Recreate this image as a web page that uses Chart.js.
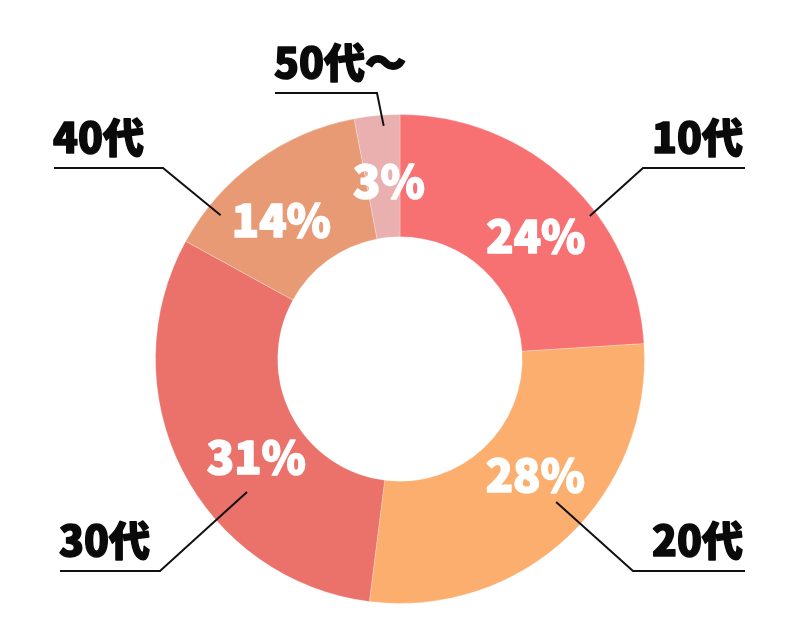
<!DOCTYPE html>
<html>
<head>
<meta charset="utf-8">
<script src="https://cdn.jsdelivr.net/npm/chart.js@4.4.1/dist/chart.umd.min.js"></script>
<style>
  html, body { margin: 0; padding: 0; background: #ffffff; }
  #wrap { width: 800px; height: 641px; }
</style>
</head>
<body>
<div id="wrap"><canvas id="c" width="800" height="641"></canvas></div>
<script>
// ---- data ----
const categories = ['10代', '20代', '30代', '40代', '50代～'];
const shares = [24, 28, 31, 14, 3];
const sliceColors = ['#F87172', '#FBAE6D', '#EB716B', '#E89A75', '#EAAFAF'];

// ---- layout / style (not data) ----
const FONT = '"Noto Sans CJK JP", "Noto Sans", sans-serif';
// per-slice fine placement of the inner % label: [angle shift in deg, radius as fraction of outer]
const pctPlace = [[4.2, 0.755], [-6.8, 0.722], [-6.7, 0.706], [-4, 0.755], [1.9, 0.739]];
// per-slice leader: start [angle shift deg, radius frac], elbow, end x
const leaders = [
  { shift: 9.8,  rf: 0.972, rowY: 168, elbowX: 643, endX: 745, side: 'right' },
  { shift: -4.3, rf: 0.866, rowY: 571, elbowX: 633, endX: 745, side: 'right' },
  { shift: -14,  rf: 0.829, rowY: 571, elbowX: 160, endX: 60,  side: 'left' },
  { shift: -15.3,rf: 0.94,  rowY: 168, elbowX: 163, endX: 54,  side: 'left' },
  { shift: 1.4,  rf: 0.956, rowY: 93,  elbowX: 377, endX: 275, side: 'left' }
];

function pointAt(arc, angShiftDeg, r) {
  const a = (arc.startAngle + arc.endAngle) / 2 + angShiftDeg * Math.PI / 180;
  return { x: arc.x + r * Math.cos(a), y: arc.y + r * Math.sin(a) };
}

function heavyText(ctx, txt, x, y, color, w) {
  ctx.fillStyle = color;
  ctx.strokeStyle = color;
  ctx.lineWidth = w;
  ctx.lineJoin = 'round';
  ctx.strokeText(txt, x, y);
  ctx.fillText(txt, x, y);
}

const labelPlugin = {
  id: 'sliceLabels',
  afterDatasetsDraw(chart) {
    const ctx = chart.ctx;
    const meta = chart.getDatasetMeta(0);
    meta.data.forEach((arc, i) => {
      const p = arc.getProps(['x', 'y', 'startAngle', 'endAngle', 'outerRadius', 'innerRadius'], true);
      // percentage label
      const pp = pointAt(p, pctPlace[i][0], p.outerRadius * pctPlace[i][1]);
      ctx.save();
      ctx.font = '900 45px ' + FONT;
      ctx.textAlign = 'center';
      ctx.textBaseline = 'middle';
      heavyText(ctx, shares[i] + '%', pp.x, pp.y + 2, '#ffffff', 1.6);
      ctx.restore();

      // leader line
      const L = leaders[i];
      const s = pointAt(p, L.shift, p.outerRadius * L.rf);
      ctx.save();
      ctx.strokeStyle = '#111111';
      ctx.lineWidth = 2;
      ctx.lineJoin = 'miter';
      ctx.beginPath();
      ctx.moveTo(s.x, s.y);
      ctx.lineTo(L.elbowX, L.rowY);
      ctx.lineTo(L.endX, L.rowY);
      ctx.stroke();

      // category label
      ctx.font = '900 41px ' + FONT;
      ctx.textBaseline = 'alphabetic';
      if (L.side === 'right') {
        ctx.textAlign = 'right';
        heavyText(ctx, categories[i], L.endX - 2, L.rowY - 15, '#0a0a0a', 1.5);
      } else {
        ctx.textAlign = 'left';
        heavyText(ctx, categories[i], L.endX - 1, L.rowY - 15, '#0a0a0a', 1.5);
      }
      ctx.restore();
    });
  }
};

new Chart(document.getElementById('c'), {
  type: 'doughnut',
  data: {
    labels: categories,
    datasets: [{
      data: shares,
      backgroundColor: sliceColors,
      borderColor: 'rgba(255,255,255,0.25)',
      borderWidth: 1
    }]
  },
  options: {
    responsive: false,
    animation: false,
    cutout: '50%',
    layout: { padding: { top: 114, bottom: 37, left: 0, right: 0 } },
    plugins: {
      legend: { display: false },
      tooltip: { enabled: false }
    }
  },
  plugins: [labelPlugin]
});
</script>
</body>
</html>
